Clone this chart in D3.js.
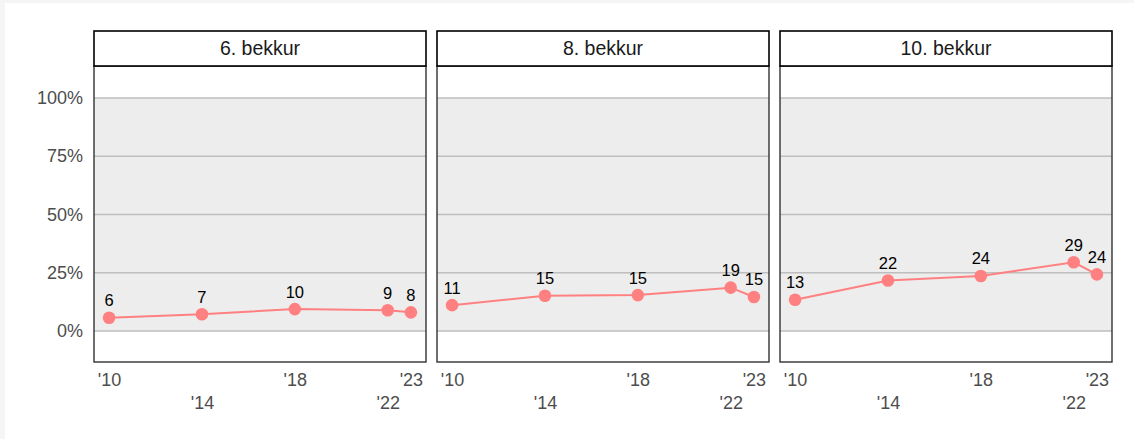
<!DOCTYPE html>
<html>
<head>
<meta charset="utf-8">
<script src="https://cdnjs.cloudflare.com/ajax/libs/d3/7.8.5/d3.min.js"></script>
<style>
  html, body { margin: 0; padding: 0; background: #f5f5f5; }
  #chart { position: absolute; left: 5px; top: 3px; }
  svg { display: block; background: #fff; font-family: "Liberation Sans", Arial, sans-serif; }
</style>
</head>
<body>
<div id="chart"></div>
<script>
// data
var panels = ["6. bekkur", "8. bekkur", "10. bekkur"];
var years = [2010, 2014, 2018, 2022, 2023];
var values6 = [5.7, 7.2, 9.4, 8.9, 8.0];
var values8 = [11.1, 15.1, 15.4, 18.6, 14.6];
var values10 = [13.4, 21.7, 23.6, 29.5, 24.3];
var labels6 = ["6", "7", "10", "9", "8"];
var labels8 = ["11", "15", "15", "19", "15"];
var labels10 = ["13", "22", "24", "29", "24"];
var yTicks = [0, 25, 50, 75, 100];

var seriesValues = [values6, values8, values10];
var seriesLabels = [labels6, labels8, labels10];

var svgWidth = 1129, svgHeight = 436;
var offX = 5, offY = 3; // svg offset in page

var svg = d3.select("#chart").append("svg")
  .attr("width", svgWidth)
  .attr("height", svgHeight);

var panelLeft = [94, 437, 780];
var panelW = 332;
var stripTop = 31, stripBottom = 66, panelBottom = 362;

// scales (shared)
var x = d3.scaleLinear()
  .domain([2010 - 0.65, 2023 + 0.65])
  .range([0, panelW]);

var y = d3.scaleLinear()
  .domain([-13.3, 113.7])
  .range([panelBottom - stripBottom, 0]);

var lineColor = "#ff8080";

panels.forEach(function(name, i) {
  var g = svg.append("g")
    .attr("transform", `translate(${panelLeft[i] - offX}, ${stripBottom - offY})`);
  var h = panelBottom - stripBottom;

  // gray band from 0 to 100%
  g.append("rect")
    .attr("x", 0)
    .attr("y", y(100))
    .attr("width", panelW)
    .attr("height", y(0) - y(100))
    .attr("fill", "#ededed");

  // gridlines
  g.selectAll(".grid")
    .data(yTicks)
    .enter()
    .append("line")
    .attr("x1", 0)
    .attr("x2", panelW)
    .attr("y1", d => y(d))
    .attr("y2", d => y(d))
    .attr("stroke", "#bebebe")
    .attr("stroke-width", 1.5);

  // y axis labels on first panel only
  if (i === 0) {
    var yAxis = d3.axisLeft(y)
      .tickValues(yTicks)
      .tickFormat(d => d + "%")
      .tickSize(0)
      .tickPadding(11);
    var ya = g.append("g").call(yAxis);
    ya.select(".domain").remove();
    ya.selectAll("text")
      .attr("fill", "#4d4d4d")
      .attr("font-size", "18px")
      .attr("font-family", "Liberation Sans, Arial, sans-serif");
  }

  // x axis labels, alternate rows
  var xAxis = d3.axisBottom(x)
    .tickValues(years)
    .tickFormat(d => "'" + String(d).slice(2))
    .tickSize(0);
  var xa = g.append("g")
    .attr("transform", `translate(0, ${h})`)
    .call(xAxis);
  xa.select(".domain").remove();
  xa.selectAll("text")
    .attr("fill", "#4d4d4d")
    .attr("font-size", "18px")
    .attr("font-family", "Liberation Sans, Arial, sans-serif")
    .attr("dy", null)
    .attr("y", (d, j) => j % 2 === 0 ? 24 : 47);

  // line
  var vals = seriesValues[i];
  var pts = years.map((yr, j) => ({ year: yr, v: vals[j], label: seriesLabels[i][j] }));

  var line = d3.line()
    .x(d => x(d.year))
    .y(d => y(d.v));

  g.append("path")
    .datum(pts)
    .attr("d", line)
    .attr("fill", "none")
    .attr("stroke", lineColor)
    .attr("stroke-width", 2);

  g.selectAll(".pt")
    .data(pts)
    .enter()
    .append("circle")
    .attr("cx", d => x(d.year))
    .attr("cy", d => y(d.v))
    .attr("r", 6.3)
    .attr("fill", lineColor);

  g.selectAll(".lbl")
    .data(pts)
    .enter()
    .append("text")
    .attr("x", d => x(d.year))
    .attr("y", d => y(d.v) - 11.5)
    .attr("text-anchor", "middle")
    .attr("font-size", "16.5px")
    .attr("fill", "#000")
    .text(d => d.label);

  // panel border
  g.append("rect")
    .attr("x", 0)
    .attr("y", 0)
    .attr("width", panelW)
    .attr("height", h)
    .attr("fill", "none")
    .attr("stroke", "#333")
    .attr("stroke-width", 1.4);

  // strip
  var s = svg.append("g")
    .attr("transform", `translate(${panelLeft[i] - offX}, ${stripTop - offY})`);
  s.append("rect")
    .attr("width", panelW)
    .attr("height", stripBottom - stripTop)
    .attr("fill", "#fff")
    .attr("stroke", "#000")
    .attr("stroke-width", 1.6);
  s.append("text")
    .attr("x", panelW / 2)
    .attr("y", (stripBottom - stripTop) / 2)
    .attr("dy", "0.35em")
    .attr("text-anchor", "middle")
    .attr("font-size", "19.5px")
    .attr("fill", "#1a1a1a")
    .text(name);
});
</script>
</body>
</html>
